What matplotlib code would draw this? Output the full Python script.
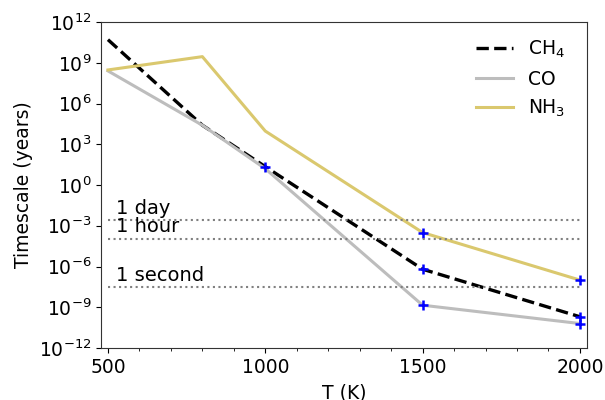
import numpy as np
import matplotlib
matplotlib.use("Agg")
import matplotlib.pyplot as plt
from matplotlib.ticker import MultipleLocator

T = [500, 800, 1000, 1500, 2000]
ch4 = [10**10.7, 10**4.4, 10**1.35, 10**-6.2, 10**-9.7]
co = [10**8.4, 10**4.4, 10**1.2, 10**-8.85, 10**-10.2]
nh3 = [10**8.47, 10**9.45, 10**3.97, 10**-3.5, 10**-7.0]

mark_T = [1000, 1500, 2000, 1500, 2000, 1500, 2000]
mark_v = [10**1.35, 10**-6.2, 10**-9.7, 10**-8.85, 10**-10.2, 10**-3.5, 10**-7.0]

ref_labels = ["1 day", "1 hour", "1 second"]
ref_values = [1/365.25, 1/(365.25*24), 1/(365.25*24*3600)]

plt.rcParams['font.family'] = 'DejaVu Sans'
fig = plt.figure(figsize=(6.05, 4.0), dpi=100)
ax = fig.add_axes([0.167, 0.13, 0.803, 0.815])

ax.plot(T, ch4, '--', color='black', lw=2.4, label='CH$_4$')
ax.plot(T, co, '-', color='#bdbdbd', lw=2.2, label='CO')
ax.plot(T, nh3, '-', color='#dac86e', lw=2.2, label='NH$_3$')
ax.plot(mark_T, mark_v, '+', color='blue', ms=7, mew=1.8, ls='none')

for lab, v in zip(ref_labels, ref_values):
    ax.plot([500, 2000], [v, v], ':', color='gray', lw=1.5)
    ax.text(525, v * 1.45, lab, fontsize=14, va='bottom', ha='left')

ax.set_yscale('log')
ax.set_ylim(1e-12, 1e12)
ax.set_xlim(478, 2022)
ax.set_yticks([10.0**k for k in range(-12, 13, 3)])
ax.yaxis.set_minor_locator(matplotlib.ticker.NullLocator())
ax.xaxis.set_major_locator(MultipleLocator(500))
ax.xaxis.set_minor_locator(MultipleLocator(100))
ax.tick_params(labelsize=13.5)
for s in ax.spines.values():
    s.set_color('#333333')
ax.set_xlabel('T (K)', fontsize=13.5, labelpad=5)
ax.set_ylabel('Timescale (years)', fontsize=13.5)
ax.legend(loc='upper right', bbox_to_anchor=(0.99, 1.0), frameon=False,
          fontsize=13.5)

fig.savefig('out.png', dpi=100)
